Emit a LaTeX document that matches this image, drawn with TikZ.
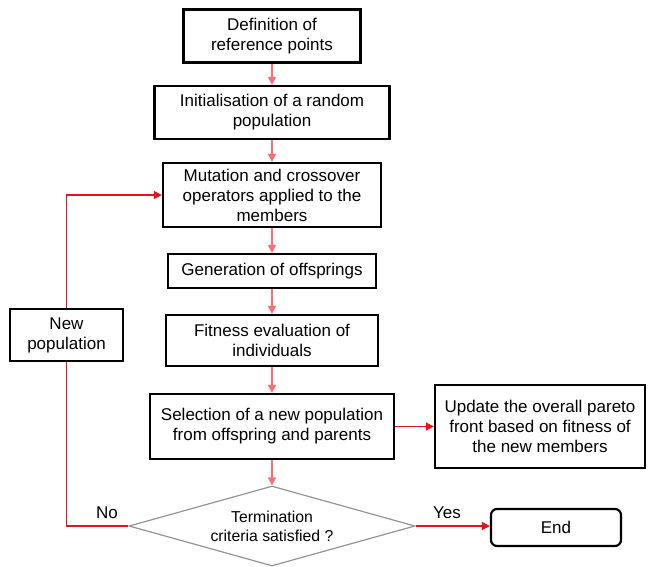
\documentclass[tikz,border=0pt]{standalone}
\usepackage{fontspec}
\setmainfont{Liberation Sans}
\usetikzlibrary{shapes.geometric,arrows.meta}
\definecolor{pinkline}{HTML}{FF6E74}
\definecolor{redline}{HTML}{E3141E}
\begin{document}
\begin{tikzpicture}[x=1pt,y=-1pt,
  box/.style={draw=black,line width=2.2pt,align=center,inner sep=2pt,font=\fontsize{17}{20}\selectfont},
  pk/.style={draw=pinkline,line width=1.7pt,-{Triangle[length=8pt,width=8pt]}},
  rd/.style={draw=redline,line width=1.5pt,-{Triangle[length=8pt,width=8pt]}},
  lbl/.style={font=\fontsize{17}{20}\selectfont}]
\useasboundingbox (0,0) rectangle (649,566);
\node[box,minimum width=177pt,minimum height=53pt] (b1) at (272,36) {Definition of\\reference points};
\node[box,minimum width=235pt,minimum height=53pt] (b2) at (272,112.5) {Initialisation of a random\\population};
\node[box,minimum width=218pt,minimum height=64pt] (b3) at (272,195) {Mutation and crossover\\operators applied to the\\members};
\node[box,minimum width=208pt,minimum height=34pt] (b4) at (272,271) {Generation of offsprings};
\node[box,minimum width=212pt,minimum height=51pt] (b5) at (272,340.5) {Fitness evaluation of\\individuals};
\node[box,minimum width=113pt,minimum height=52pt] (np) at (66.5,335) {New\\population};
\node[box,minimum width=244pt,minimum height=65pt] (b6) at (272,426.5) {Selection of a new population\\from offspring and parents};
\node[box,minimum width=210pt,minimum height=83pt] (up) at (540,426.5) {Update the overall pareto\\front based on fitness of\\the new members};
\node[diamond,draw=gray!85,line width=1.2pt,aspect=3.575,minimum width=286pt,minimum height=80pt,inner sep=0pt,align=center,font=\fontsize{15.8}{19}\selectfont] (d) at (272,526) {Termination\\criteria satisfied ?};
\node[box,rounded corners=6pt,minimum width=130pt,minimum height=37pt] (end) at (556,527.5) {End};
\draw[pk] (b1.south) -- (b2.north);
\draw[pk] (b2.south) -- (b3.north);
\draw[pk] (b3.south) -- (b4.north);
\draw[pk] (b4.south) -- (b5.north);
\draw[pk] (b5.south) -- (b6.north);
\draw[pk] (b6.south) -- (d.north);
\draw[rd] (b6) -- (up);
\draw[rd] (d.east) -- (end.west |- d.east);
\draw[draw=redline,line width=1.5pt] (d.west) -| (np.south);
\draw[rd] (np.north) |- (b3.west);
\node[lbl] (no) at (107,513) {No};
\node[lbl] (yes) at (447,513) {Yes};
\end{tikzpicture}
\end{document}
